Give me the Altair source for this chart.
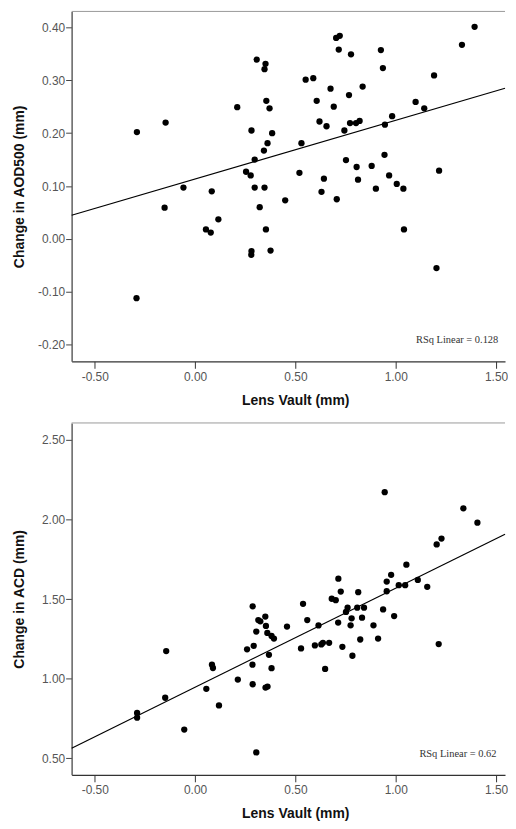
import altair as alt
import pandas as pd

# ---- Top panel: Lens Vault vs Change in AOD500 ----
top_x = [-0.290, -0.147, -0.058, 0.083, 0.210, 0.281, 0.254, 0.277, 0.297, 0.297,
         0.307, 0.351, 0.346, 0.343, 0.346, 0.355, 0.371, 0.361, 0.384, 0.449,
         0.530, 0.520, 0.551, 0.589, 0.606, 0.620, 0.642, 0.630, 0.655, 0.675,
         0.691, 0.703, 0.721, 0.716, 0.706, 0.744, 0.752, 0.767, 0.777, 0.772,
         0.802, 0.820, 0.805, 0.812, 0.835, 0.880, 0.901, 0.926, 0.936, 0.946,
         0.944, 0.967, 0.982, 1.005, 1.038, 1.099, 1.142, 1.191, 1.216, 1.330,
         1.393, -0.152, 0.054, 0.078, 0.116, 0.322, 0.353, 0.281, 0.280, 0.376,
         1.041, 1.203, -0.292]
top_y = [0.202, 0.220, 0.097, 0.090, 0.249, 0.205, 0.127, 0.120, 0.150, 0.097,
         0.339, 0.331, 0.321, 0.167, 0.097, 0.261, 0.247, 0.181, 0.200, 0.073,
         0.181, 0.125, 0.301, 0.304, 0.261, 0.222, 0.114, 0.089, 0.213, 0.284,
         0.250, 0.380, 0.384, 0.358, 0.075, 0.205, 0.149, 0.272, 0.349, 0.219,
         0.219, 0.223, 0.136, 0.112, 0.288, 0.138, 0.095, 0.357, 0.323, 0.216,
         0.159, 0.120, 0.232, 0.104, 0.095, 0.259, 0.247, 0.309, 0.129, 0.367,
         0.401, 0.059, 0.018, 0.012, 0.037, 0.060, 0.018, -0.023, -0.030, -0.022,
         0.018, -0.055, -0.112]

# ---- Bottom panel: Lens Vault vs Change in ACD ----
bot_x = [0.945, 1.337, 1.407, 1.204, 1.228, 1.053, 0.977, 0.955, 1.110, 1.157,
         1.015, 1.047, 0.955, 0.714, 0.726, 0.813, 0.681, 0.701, 0.538, 0.287,
         0.760, 0.752, 0.808, 0.842, 0.937, 0.992, 0.832, 0.780, 0.775, 0.889,
         0.713, 0.615, 0.559, 0.458, 0.350, 0.315, 0.325, 0.353, 0.305, 0.360,
         0.381, 0.393, 0.292, 0.259, 0.368, 0.286, 0.381, 0.528, 0.597, 0.629,
         0.637, 0.668, 0.734, 0.823, 0.912, 0.784, 0.648, 1.214, -0.144, 0.084,
         0.089, 0.213, 0.056, 0.287, 0.351, 0.361, -0.149, -0.289, -0.289, 0.119,
         -0.054, 0.305]
bot_y = [2.171, 2.070, 1.980, 1.843, 1.880, 1.716, 1.652, 1.610, 1.620, 1.577,
         1.587, 1.587, 1.549, 1.628, 1.547, 1.543, 1.502, 1.493, 1.470, 1.454,
         1.446, 1.419, 1.446, 1.446, 1.435, 1.393, 1.383, 1.379, 1.335, 1.335,
         1.352, 1.334, 1.368, 1.327, 1.390, 1.368, 1.360, 1.331, 1.296, 1.287,
         1.268, 1.252, 1.206, 1.184, 1.150, 1.088, 1.066, 1.190, 1.209, 1.215,
         1.225, 1.225, 1.200, 1.246, 1.252, 1.144, 1.061, 1.217, 1.173, 1.088,
         1.067, 0.994, 0.936, 0.965, 0.944, 0.950, 0.880, 0.785, 0.755, 0.832,
         0.680, 0.537]

x_ticks = [-0.5, 0.0, 0.5, 1.0, 1.5]
top_ticks = [-0.2, -0.1, 0.0, 0.1, 0.2, 0.3, 0.4]
bot_ticks = [0.5, 1.0, 1.5, 2.0, 2.5]

x_title = "Lens Vault (mm)"
top_title = "Change in AOD500 (mm)"
bot_title = "Change in ACD (mm)"
top_rsq = ["RSq Linear = 0.128"]
bot_rsq = ["RSq Linear = 0.62"]

X_DOMAIN = [-0.6154, 1.5446]
W = 436

FONT = "Liberation Sans"
HYPHEN_LABEL = "(datum.value < 0 ? '-' : '') + format(abs(datum.value), '.2f')"


def panel(xs, ys, ytitle, ydomain, yticks, h, rsq, rsq_xy):
    df = pd.DataFrame({"x": xs, "y": ys})
    xaxis = alt.Axis(title=x_title, values=x_ticks, labelExpr=HYPHEN_LABEL, grid=False,
                     tickSize=7, labelPadding=3, labelFontSize=12, labelColor="#555",
                     labelFont=FONT, titleFont=FONT, titleFontSize=14,
                     titleFontWeight="bold", titleColor="#111", titlePadding=11,
                     titleX=225, domainColor="#333", domainWidth=1.4,
                     tickColor="#333", labelFlush=False)
    yaxis = alt.Axis(title=ytitle, values=yticks, labelExpr=HYPHEN_LABEL, grid=False,
                     tickSize=6, labelPadding=1, labelFontSize=12, labelColor="#555",
                     labelFont=FONT, titleFont=FONT, titleFontSize=14,
                     titleFontWeight="bold", titleColor="#111", titleX=-45,
                     domainColor="#555", domainWidth=1.4, tickColor="#444")
    xs_ = alt.Scale(domain=X_DOMAIN, nice=False, zero=False)
    ys_ = alt.Scale(domain=ydomain, nice=False, zero=False)
    base = alt.Chart(df)
    pts = base.mark_circle(size=40, color="black", opacity=1).encode(
        x=alt.X("x:Q", scale=xs_, axis=xaxis),
        y=alt.Y("y:Q", scale=ys_, axis=yaxis),
    )
    line = base.transform_regression("x", "y", extent=X_DOMAIN).mark_line(
        color="black", strokeWidth=1.2).encode(x="x:Q", y="y:Q")
    border = alt.Chart(pd.DataFrame({"a": [0]})).mark_rule(
        color="#999", strokeWidth=1).encode(
        x=alt.value(0), x2=alt.value(W), y=alt.value(0))
    tdf = pd.DataFrame({"x": [rsq_xy[0]], "y": [rsq_xy[1]], "t": rsq})
    text = alt.Chart(tdf).mark_text(font="Liberation Serif", fontSize=10.5,
                                    align="right", baseline="middle",
                                    color="#333").encode(
        x="x:Q", y="y:Q", text="t:N")
    return alt.layer(pts, line, border, text).properties(width=W, height=h)


top = panel(top_x, top_y, top_title, [-0.2314, 0.4301], top_ticks, 352,
            top_rsq, (1.511, -0.1906))
bottom = panel(bot_x, bot_y, bot_title, [0.3959, 2.606], bot_ticks, 354,
               bot_rsq, (1.502, 0.529))

chart = alt.vconcat(top, bottom, spacing=62, bounds="flush").properties(
    padding={"left": 5, "top": 0, "right": 0, "bottom": 0}
).configure_view(strokeWidth=0)

chart.save("out.html", embed_options={"renderer": "svg", "actions": False})
